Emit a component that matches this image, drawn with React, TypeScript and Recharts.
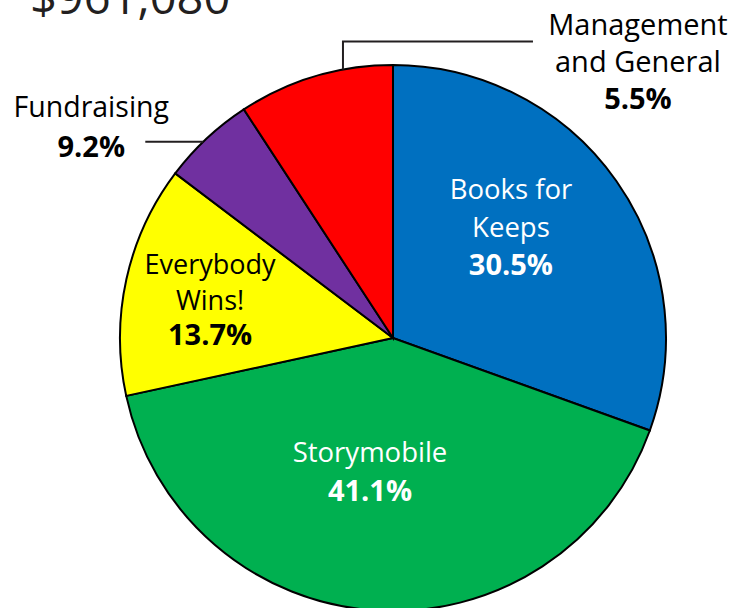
import { PieChart, Pie, Cell } from "recharts";

// slice sizes, clockwise from 12 o'clock
const shares = [30.5, 41.1, 13.7, 5.5, 9.2];
const sliceNames = ["Books for Keeps", "Storymobile", "Everybody Wins!", "Fundraising", "Management and General"];
const labelLines = [["Books for", "Keeps"], ["Storymobile"], ["Everybody", "Wins!"], ["Fundraising"], ["Management", "and General"]];
const labelPercents = ["30.5%", "41.1%", "13.7%", "9.2%", "5.5%"];
const sliceColors = ["#0070C0", "#00B050", "#FFFF00", "#7030A0", "#FF0000"];
const totalLabel = "$961,080";

const data = shares.map((v, i) => ({ name: sliceNames[i], value: v }));

const FONT = "'Open Sans', 'Noto Sans', sans-serif";
const RAD = Math.PI / 180;

// label placement, relative to each slice's mid angle / edge
const layout: any[] = [
  { type: "inside", r: 0.569, shift: 5.5, lh: 38, fill: "#fff", fs: 27.5 },
  { type: "inside", r: 0.534, shift: -5.3, lh: 39, fill: "#fff", fs: 27.5 },
  { type: "inside", r: 0.678, shift: 3.7, lh: 35.5, fill: "#000", fs: 27 },
  { type: "side", shift: 1, elbow: 0, run: -58, tx: -54, ty: -25, lh: 40, fs: 28.5 },
  { type: "side", shift: -6, elbow: -28, run: 190, tx: 105, ty: -7, lh: 37, fs: 29 },
];

const polar = (cx: number, cy: number, r: number, a: number) => ({
  x: cx + r * Math.cos(-a * RAD),
  y: cy + r * Math.sin(-a * RAD),
});

const renderLabel = (props: any) => {
  const { cx, cy, midAngle, outerRadius, index } = props;
  const lay = layout[index];
  const lines = [...labelLines[index], labelPercents[index]];
  const n = lines.length;

  let x: number, y0: number, fill = "#000";
  let leader = null;
  if (lay.type === "inside") {
    const p = polar(cx, cy, outerRadius * lay.r, midAngle + lay.shift);
    x = p.x;
    y0 = p.y - ((n - 1) * lay.lh) / 2;
    fill = lay.fill;
  } else {
    const p = polar(cx, cy, outerRadius, midAngle + lay.shift);
    const ly = p.y + lay.elbow;
    const lx = p.x + lay.run;
    leader = (
      <polyline
        points={`${p.x},${p.y} ${p.x},${ly} ${lx},${ly}`}
        fill="none"
        stroke="#231F20"
        strokeWidth={2}
      />
    );
    x = lx + lay.tx;
    y0 = ly + lay.ty;
  }

  return (
    <g key={`lbl-${index}`}>
      {leader}
      {lines.map((t, i) => (
        <text
          key={i}
          x={x}
          y={y0 + i * lay.lh}
          textAnchor="middle"
          fill={fill}
          fontFamily={FONT}
          fontSize={i === n - 1 ? 29 : lay.fs}
          fontWeight={i === n - 1 ? 700 : 400}
        >
          {t}
        </text>
      ))}
    </g>
  );
};

export default function App() {
  return (
    <div style={{ position: "relative", width: 749, height: 608, background: "#fff", overflow: "hidden" }}>
      <style>{"body{margin:0}"}</style>
      <PieChart width={749} height={608} margin={{ top: 0, right: 0, bottom: 0, left: 0 }}>
        <Pie
          data={data}
          dataKey="value"
          cx={393}
          cy={338}
          outerRadius={273}
          startAngle={90}
          endAngle={-270}
          stroke="#000"
          strokeWidth={2}
          label={renderLabel}
          labelLine={false}
          isAnimationActive={false}
        >
          {data.map((_, i) => (
            <Cell key={i} fill={sliceColors[i]} />
          ))}
        </Pie>
      </PieChart>
      <svg width={749} height={608} style={{ position: "absolute", left: 0, top: 0, pointerEvents: "none" }}>
        <text x={30} y={14} fontFamily={FONT} fontSize={47} fill="#231F20">
          {totalLabel}
        </text>
      </svg>
    </div>
  );
}
